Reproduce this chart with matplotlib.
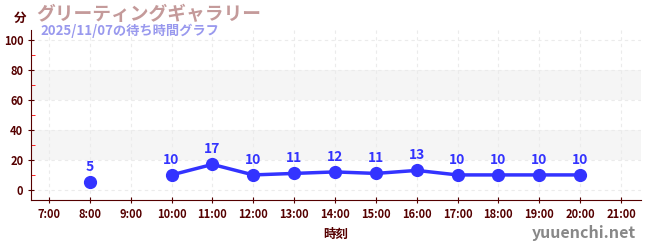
import matplotlib
matplotlib.use("Agg")
import matplotlib.pyplot as plt
import numpy as np

plt.rcParams['font.family'] = ['Noto Sans CJK JP', 'DejaVu Sans']

hours = [8, 9, 10, 11, 12, 13, 14, 15, 16, 17, 18, 19, 20]
waits = [5, None, 10, 17, 10, 11, 12, 11, 13, 10, 10, 10, 10]
tick_hours = list(range(7, 22))
tick_labels = [f"{h}:00" for h in tick_hours]
title = "グリーティングギャラリー"
subtitle = "2025/11/07の待ち時間グラフ"

fig = plt.figure(figsize=(6.5, 2.5), dpi=100)
ax = fig.add_axes([31/650, 50/250, 610/650, 170/250])

axc = '#550000'
blue = '#3333ff'

ax.set_xlim(6.56, 21.49)
ax.set_ylim(-6.7, 106.5)

for lo, hi in [(20, 40), (60, 80)]:
    ax.axhspan(lo, hi, color='#f5f5f5', zorder=0, lw=0)

ax.set_yticks([0, 20, 40, 60, 80, 100])
ax.set_yticks([10, 30, 50, 70, 90], minor=True)
ax.set_xticks(tick_hours)
ax.set_xticklabels(tick_labels)
ax.grid(True, which='major', color='#ebebeb', ls=(0, (3, 3)), lw=0.8)
ax.set_axisbelow(True)

for s in ['top', 'right']:
    ax.spines[s].set_visible(False)
for s in ['left', 'bottom']:
    ax.spines[s].set_color(axc)
ax.tick_params(axis='both', which='major', colors=axc, labelsize=8, length=5, direction='inout', pad=3)
ax.tick_params(axis='y', which='minor', color='red', length=3, direction='in')
for lab in ax.get_xticklabels() + ax.get_yticklabels():
    lab.set_fontweight('bold')
    lab.set_color(axc)

x = np.array(hours, dtype=float)
y = np.array([np.nan if v is None else v for v in waits], dtype=float)
ax.plot(x, y, color=blue, lw=2.5, marker='o', ms=8.5, zorder=3)
for xi, yi in zip(x, y):
    if not np.isnan(yi):
        ax.annotate(f"{int(yi)}", (xi, yi), xytext=(0, 6), textcoords='offset points',
                    ha='center', va='bottom', color=blue, fontsize=10, fontweight='bold')

ax.set_xlabel("時刻", color=axc, fontsize=9, fontweight='bold', labelpad=5)
fig.text(14/650, 1 - 18/250, "分", color=axc, fontsize=9, fontweight='bold', va='center')
fig.text(36/650, 1 - 14/250, title, color='#c49a9a', fontsize=13.5, fontweight='bold', va='center')
fig.text(40/650, 1 - 31/250, subtitle, color='#9999ee', fontsize=9.5, fontweight='bold', va='center')
fig.text(636/650, 1 - 233/250, "yuuenchi.net", color='#888888', fontsize=11.5, fontweight='bold', ha='right', va='center')

fig.savefig("out.png", dpi=100)
